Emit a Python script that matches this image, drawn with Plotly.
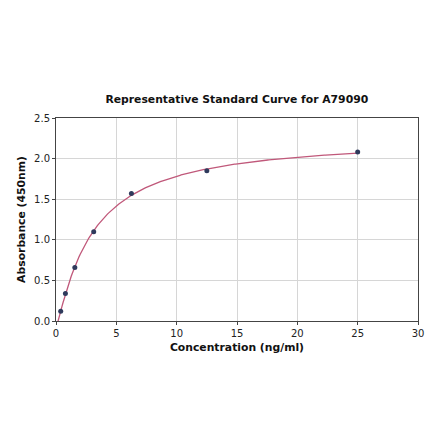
import numpy as np
import plotly.graph_objects as go

conc = [0.39, 0.78, 1.56, 3.125, 6.25, 12.5, 25.0]
absorb = [0.12, 0.34, 0.66, 1.10, 1.57, 1.85, 2.08]
x_ticks = [0, 5, 10, 15, 20, 25, 30]
y_ticks = [0.0, 0.5, 1.0, 1.5, 2.0, 2.5]

# 4PL fit (a fixed near 0) via grid search on b, c, linear solve for a, d
xd = np.array(conc); yd = np.array(absorb)
best = None
for b in np.linspace(0.5, 2.5, 81):
    for c in np.linspace(1.0, 15.0, 141):
        g = 1.0 / (1.0 + (xd / c) ** b)
        A = np.vstack([g, 1 - g]).T
        coef, *_ = np.linalg.lstsq(A, yd, rcond=None)
        err = np.sum((A @ coef - yd) ** 2)
        if best is None or err < best[0]:
            best = (err, b, c, coef)
_, b, c, (a, d) = best
xf = np.linspace(0.0, 25.0, 300)
gf = 1.0 / (1.0 + (xf / c) ** b)
yf = a * gf + d * (1 - gf)

fig = go.Figure()
fig.add_trace(go.Scatter(x=xf, y=yf, mode="lines",
                         line=dict(color="#c0587a", width=1.3), hoverinfo="skip"))
fig.add_trace(go.Scatter(x=conc, y=absorb, mode="markers",
                         marker=dict(color="#2f3a5c", size=5)))

axis_common = dict(showline=True, linecolor="#444", linewidth=1, mirror=True,
                   showgrid=True, gridcolor="#d6d6d6", gridwidth=1,
                   ticks="outside", ticklen=3, tickcolor="#444",
                   tickfont=dict(family="DejaVu Sans", size=10, color="#222"),
                   zeroline=False)
fig.update_layout(
    width=440, height=441,
    paper_bgcolor="white", plot_bgcolor="white",
    showlegend=False,
    margin=dict(l=48, r=30, t=110, b=128),
    title=dict(text="<b>Representative Standard Curve for A79090</b>",
               x=0.52, xanchor="center", y=0.774 + 8/441, yanchor="middle",
               font=dict(family="DejaVu Sans", size=10.8, color="#111")),
    xaxis=dict(range=[0, 30], tickvals=x_ticks, ticktext=[str(v) for v in x_ticks],
               title=dict(text="<b>Concentration (ng/ml)</b>", standoff=5,
                          font=dict(family="DejaVu Sans", size=10.8, color="#111")),
               **axis_common),
    yaxis=dict(range=[0, 2.5], tickvals=y_ticks, ticktext=[f"{v:.1f}" for v in y_ticks],
               title=dict(text="<b>Absorbance (450nm)</b>", standoff=6,
                          font=dict(family="DejaVu Sans", size=10.8, color="#111")),
               **axis_common),
)
fig.write_html("out.html")
